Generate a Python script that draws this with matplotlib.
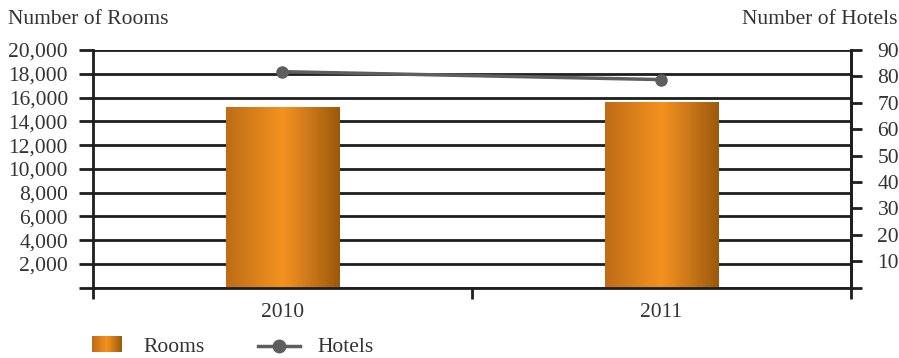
import matplotlib.pyplot as plt
import numpy as np
from matplotlib.colors import LinearSegmentedColormap
from matplotlib.lines import Line2D

years = ["2010", "2011"]
rooms = [15200, 15600]
hotels = [81.8, 78.8]

room_ticks = list(range(0, 20001, 2000))
hotel_ticks = list(range(0, 91, 10))

plt.rcParams["font.family"] = ["Liberation Serif", "DejaVu Serif"]
ink = "#1e1e1e"
txt = "#333333"
fs = 15.5
grad = LinearSegmentedColormap.from_list(
    "bar", ["#bf6c17", "#d9801c", "#f5921f", "#c9761a", "#9b590a"])
g = np.linspace(0, 1, 256).reshape(1, -1)

fig = plt.figure(figsize=(8.99, 3.58), dpi=100)
ax = fig.add_axes([0.1034, 0.1964, 0.8432, 0.6639])
x = np.arange(len(years))
w = 0.3

for xi, v in zip(x, rooms):
    ax.imshow(g, cmap=grad, extent=[xi - w / 2, xi + w / 2, 0, v],
              aspect="auto", zorder=2, interpolation="bilinear")

ax.set_xlim(-0.5, len(years) - 0.5)
ax.set_ylim(0, 20000)
ax.set_yticks(room_ticks)
ax.set_yticklabels([""] + [f"{t:,}" for t in room_ticks[1:]], fontsize=fs, color=txt)
ax.grid(axis="y", color=ink, linewidth=2)
ax.set_axisbelow(True)
ax.tick_params(axis="y", direction="out", length=10, width=2, color=ink, pad=8)

ax.set_xticks(np.arange(-0.5, len(years), 1.0))
ax.set_xticklabels([])
ax.set_xticks(x, minor=True)
ax.set_xticklabels(years, minor=True, fontsize=fs, color=txt)
ax.tick_params(axis="x", which="major", direction="out", length=8, width=2, color=ink)
ax.tick_params(axis="x", which="minor", length=0, pad=11)

ax.spines["top"].set_visible(False)
for s in ["left", "bottom", "right"]:
    ax.spines[s].set_linewidth(2)
    ax.spines[s].set_color(ink)

ax2 = ax.twinx()
ax2.plot(x, hotels, color="#5e5e5e", linewidth=2.5, marker="o", markersize=8, zorder=5)
ax2.set_ylim(0, 90)
ax2.set_yticks(hotel_ticks)
ax2.set_yticklabels([""] + [str(t) for t in hotel_ticks[1:]], fontsize=fs, color=txt)
ax2.tick_params(axis="y", direction="out", length=8, width=2, color=ink, pad=11)
for s in ["top", "left", "bottom"]:
    ax2.spines[s].set_visible(False)
ax2.spines["right"].set_linewidth(2)
ax2.spines["right"].set_color(ink)

fig.text(8 / 899, 1 - 20 / 358, "Number of Rooms", fontsize=fs, color=txt, va="center")
fig.text(897 / 899, 1 - 20 / 358, "Number of Hotels", fontsize=fs, color=txt,
         va="center", ha="right")

# legend
sw = fig.add_axes([92 / 899, 1 - 352 / 358, 29 / 899, 16 / 358])
sw.imshow(g, cmap=grad, aspect="auto", interpolation="bilinear")
sw.axis("off")
fig.text(143 / 899, 1 - 348 / 358, "Rooms", fontsize=fs, color=txt, va="center")
fig.lines.append(Line2D([258 / 899, 300 / 899], [1 - 346 / 358, 1 - 346 / 358],
                        transform=fig.transFigure, color="#5e5e5e", linewidth=2.5))
fig.lines.append(Line2D([279 / 899], [1 - 346 / 358], transform=fig.transFigure,
                        color="#5e5e5e", marker="o", markersize=9))
fig.text(317 / 899, 1 - 348 / 358, "Hotels", fontsize=fs, color=txt, va="center")

fig.savefig("out.png", dpi=100)
